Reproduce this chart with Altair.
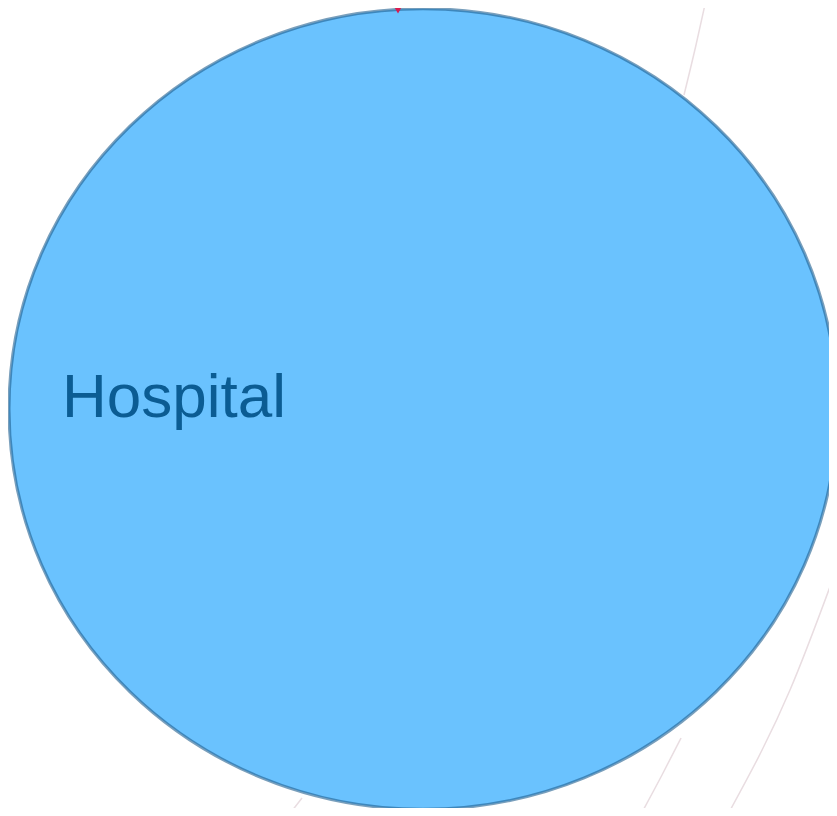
import altair as alt
import pandas as pd

# Node (page-pixel layout coordinates)
node_names = ["Hospital"]
node_x = [423]
node_y = [409]
label_x = [62]
label_y = [417]

# Incoming edge arrow head (top)
arrow_x = [398]
arrow_y = [8]

# Faint background links (layout coordinates)
link_id = ["a", "a", "a", "b", "b", "b", "c", "c", "c", "d", "d", "d", "e", "e"]
link_x = [706, 696, 684, 834, 832, 830, 838, 790, 727, 681, 662, 640, 302, 288]
link_y = [0, 45, 95, 110, 200, 300, 565, 690, 816, 738, 775, 816, 798, 816]

W, H = 821, 800
xs = alt.Scale(domain=[8, 8 + W], nice=False, zero=False)
ys = alt.Scale(domain=[8, 8 + H], nice=False, zero=False, reverse=True)

links = pd.DataFrame({"id": link_id, "x": link_x, "y": link_y, "o": list(range(len(link_x)))})
nodes = pd.DataFrame({"name": node_names, "x": node_x, "y": node_y, "lx": label_x, "ly": label_y})
arrows = pd.DataFrame({"x": arrow_x, "y": arrow_y})

link_layer = alt.Chart(links).mark_line(
    color="#e9dde1", strokeWidth=1.5, interpolate="monotone", clip=False
).encode(
    x=alt.X("x:Q", scale=xs, axis=None),
    y=alt.Y("y:Q", scale=ys, axis=None),
    detail="id:N",
    order="o:Q",
)

ellipse = "M -1 0 A 1 0.967 0 1 0 1 0 A 1 0.967 0 1 0 -1 0 Z"
node_layer = alt.Chart(nodes).mark_point(
    shape=ellipse, size=828 * 828, filled=True, fill="#6ac2fe", fillOpacity=1,
    stroke="#1f5f8f", strokeOpacity=0.6, strokeWidth=3, opacity=1, clip=False
).encode(
    x=alt.X("x:Q", scale=xs, axis=None),
    y=alt.Y("y:Q", scale=ys, axis=None),
)

arrow_layer = alt.Chart(arrows).mark_point(
    shape="triangle-down", size=160, filled=True, color="#d81b50", opacity=1
).encode(
    x=alt.X("x:Q", scale=xs, axis=None),
    y=alt.Y("y:Q", scale=ys, axis=None),
)

label_layer = alt.Chart(nodes).mark_text(
    align="left", baseline="alphabetic", font="Liberation Sans", fontSize=62,
    color="#0b5c93"
).encode(
    x=alt.X("lx:Q", scale=xs, axis=None),
    y=alt.Y("ly:Q", scale=ys, axis=None),
    text="name:N",
)

chart = alt.layer(link_layer, node_layer, arrow_layer, label_layer).properties(
    width=W, height=H, padding=0, autosize=alt.AutoSizeParams(type="none")
).configure_view(strokeWidth=0)

chart.save("out.html", embed_options={"renderer": "svg", "actions": False})
